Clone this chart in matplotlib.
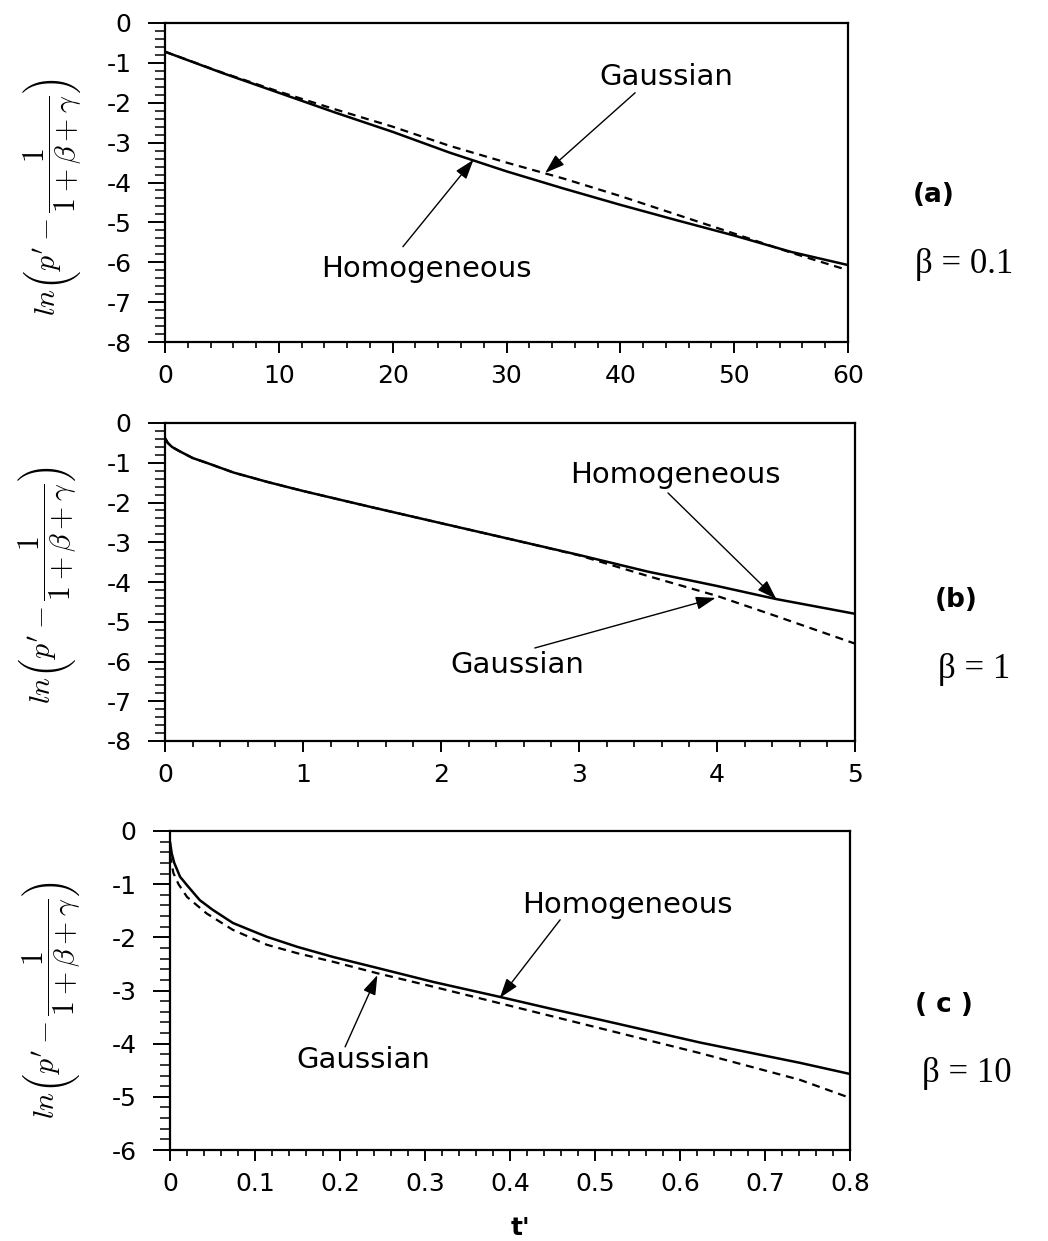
import matplotlib
matplotlib.use("Agg")
import matplotlib.pyplot as plt
from matplotlib.ticker import MultipleLocator

plt.rcParams["font.family"] = ["DejaVu Sans"]
plt.rcParams["mathtext.fontset"] = "cm"
plt.rcParams["axes.unicode_minus"] = False

W, H = 1048, 1241

# ---- panel (a): beta = 0.1 ----
t_a = [0, 5, 10, 15, 20, 25, 30, 35, 40, 45, 50, 55, 60]
homog_a = [-0.72, -1.25, -1.75, -2.25, -2.73, -3.25, -3.72, -4.15, -4.56, -4.95, -5.33, -5.74, -6.07]
gauss_a = [-0.72, -1.24, -1.72, -2.17, -2.60, -3.08, -3.50, -3.90, -4.34, -4.81, -5.28, -5.76, -6.20]

# ---- panel (b): beta = 1 ----
t_b = [0, 0.02, 0.05, 0.1, 0.2, 0.3, 0.5, 0.75, 1.0, 1.5, 2.0, 2.5, 3.0, 3.5, 4.0, 4.43, 5.0]
homog_b = [-0.38, -0.50, -0.60, -0.70, -0.88, -1.00, -1.25, -1.49, -1.71, -2.12, -2.52,
           -2.92, -3.32, -3.74, -4.10, -4.43, -4.80]
gauss_b = [-0.38, -0.50, -0.60, -0.70, -0.88, -1.00, -1.25, -1.49, -1.71, -2.12, -2.52,
           -2.92, -3.33, -3.85, -4.35, -4.86, -5.55]

# ---- panel (c): beta = 10 ----
t_c_h = [0, 0.002, 0.005, 0.0118, 0.02, 0.035, 0.05, 0.074, 0.1, 0.114, 0.15, 0.192,
         0.245, 0.31, 0.388, 0.45, 0.506, 0.624, 0.741, 0.8]
homog_c = [-0.20, -0.42, -0.60, -0.86, -1.02, -1.30, -1.48, -1.73, -1.90, -1.99, -2.18,
           -2.37, -2.58, -2.84, -3.12, -3.35, -3.55, -3.98, -4.36, -4.57]
t_c_g = [0, 0.004, 0.01, 0.02, 0.043, 0.074, 0.114, 0.15, 0.192, 0.245, 0.31, 0.388,
         0.506, 0.624, 0.741, 0.8]
gauss_c = [-0.45, -0.79, -1.00, -1.24, -1.55, -1.86, -2.14, -2.30, -2.46, -2.68, -2.93,
           -3.24, -3.71, -4.18, -4.68, -5.02]

xticks_a = [0, 10, 20, 30, 40, 50, 60]
xticks_b = [0, 1, 2, 3, 4, 5]
xticks_c = [0, 0.1, 0.2, 0.3, 0.4, 0.5, 0.6, 0.7, 0.8]
xlabels_c = ["0", "0.1", "0.2", "0.3", "0.4", "0.5", "0.6", "0.7", "0.8"]
yticks_ab = [0, -1, -2, -3, -4, -5, -6, -7, -8]
yticks_c = [0, -1, -2, -3, -4, -5, -6]

panel_tags = ["(a)", "(b)", "( c )"]
beta_tags = ["β = 0.1", "β = 1", "β = 10"]

ylab = r"$ln\left(p' - \dfrac{1}{1+\beta+\gamma}\right)$"

fig = plt.figure(figsize=(W / 100, H / 100), dpi=100)


def add_axes_px(left, right, top, bottom):
    return fig.add_axes([left / W, 1 - bottom / H, (right - left) / W, (bottom - top) / H])


def style(ax, xticks, xlabels, yticks, xminor, xlim, ylim):
    ax.set_xlim(*xlim)
    ax.set_ylim(*ylim)
    ax.set_xticks(xticks, xlabels)
    ax.set_yticks(yticks, [str(v) for v in yticks])
    ax.xaxis.set_minor_locator(MultipleLocator(xminor))
    ax.yaxis.set_minor_locator(MultipleLocator(0.2))
    for s in ax.spines.values():
        s.set_linewidth(1.6)
    ax.tick_params(axis="x", which="major", direction="out", length=8, width=1.4,
                   pad=8, labelsize=18)
    ax.tick_params(axis="x", which="minor", direction="out", length=4, width=1.2)
    ax.tick_params(axis="y", which="major", direction="out", length=12, width=1.4,
                   pad=12, labelsize=18)
    ax.tick_params(axis="y", which="minor", direction="out", length=7, width=1.1)
    ax.tick_params(top=False, right=False, which="both")


solid_kw = dict(color="black", lw=1.8, solid_capstyle="butt")
dash_kw = dict(color="black", lw=1.6, linestyle=(0, (3.6, 2.6)))
arrow_kw = dict(arrowstyle="-|>,head_length=0.6,head_width=0.2", color="black",
                lw=1.0, shrinkA=0, shrinkB=0, mutation_scale=20)
ann_fs = 21


def label_arrow(ax, text, tx, ty, tail, head):
    ax.text(tx, ty, text, ha="center", va="baseline", fontsize=ann_fs)
    ax.annotate("", xy=head, xytext=tail, arrowprops=arrow_kw)


# (a)
ax_a = add_axes_px(165, 848, 23, 342)
ax_a.plot(t_a, homog_a, **solid_kw)
ax_a.plot(t_a, gauss_a, **dash_kw)
style(ax_a, xticks_a, [str(v) for v in xticks_a], yticks_ab, 2, (0, 60), (-8, 0))
label_arrow(ax_a, "Gaussian", 44.0, -1.55, (41.3, -1.75), (33.4, -3.76))
label_arrow(ax_a, "Homogeneous", 23.0, -6.37, (20.9, -5.61), (27.1, -3.43))

# (b)
ax_b = add_axes_px(165, 855, 423, 741)
ax_b.plot(t_b, homog_b, **solid_kw)
ax_b.plot(t_b, gauss_b, **dash_kw)
style(ax_b, xticks_b, [str(v) for v in xticks_b], yticks_ab, 0.2, (0, 5), (-8, 0))
label_arrow(ax_b, "Homogeneous", 3.70, -1.51, (3.645, -1.76), (4.43, -4.43))
label_arrow(ax_b, "Gaussian", 2.55, -6.29, (2.68, -5.66), (3.99, -4.40))

# (c)
ax_c = add_axes_px(170, 850, 831, 1150)
ax_c.plot(t_c_h, homog_c, **solid_kw)
ax_c.plot(t_c_g, gauss_c, **dash_kw)
style(ax_c, xticks_c, xlabels_c, yticks_c, 0.02, (0, 0.8), (-6, 0))
label_arrow(ax_c, "Homogeneous", 0.538, -1.54, (0.459, -1.67), (0.388, -3.14))
label_arrow(ax_c, "Gaussian", 0.227, -4.455, (0.206, -4.06), (0.244, -2.71))

# y-axis labels
for xc, yc in [(53, 197), (48, 585), (52, 1000)]:
    fig.text(xc / W, 1 - yc / H, ylab, rotation=90, ha="center", va="center", fontsize=21.5)

# x-axis label
fig.text(520 / W, 1 - 1228 / H, "t'", ha="center", va="center", fontsize=18,
         fontweight="bold")

# panel tags and beta values
for (px, py), tag in zip([(913, 195), (935, 600), (915, 1005)], panel_tags):
    fig.text(px / W, 1 - py / H, tag, ha="left", va="center", fontsize=19,
             fontweight="bold")
for (px, py), tag in zip([(915, 273), (938, 678), (922, 1082)], beta_tags):
    fig.text(px / W, 1 - py / H, tag, ha="left", va="baseline", fontsize=25,
             family=["Liberation Serif", "DejaVu Serif"])

fig.savefig("out.png", dpi=100)
